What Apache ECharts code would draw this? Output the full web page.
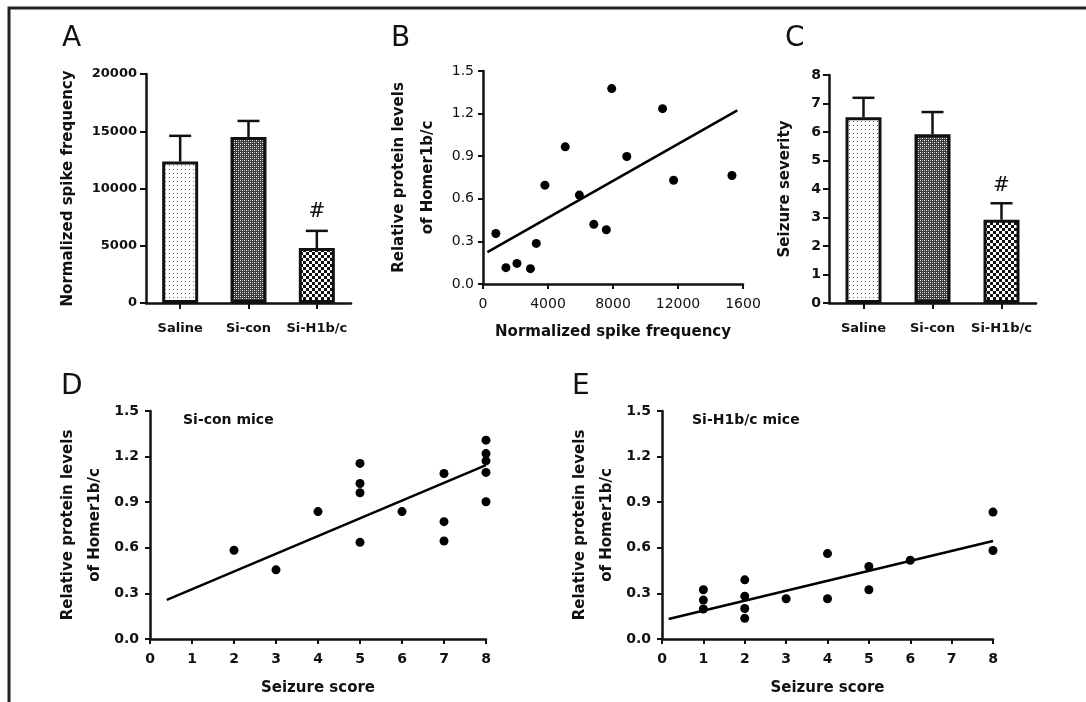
<!DOCTYPE html>
<html>
<head>
<meta charset="utf-8">
<script src="https://cdn.jsdelivr.net/npm/echarts@6/dist/echarts.min.js"></script>
<style>html,body{margin:0;padding:0;background:#fff;}#main{width:1086px;height:702px;}</style>
</head>
<body>
<div id="main"></div>
<script>
// ---------- DATA ----------
var groupNames = ['Saline', 'Si-con', 'Si-H1b/c'];
// Panel A: normalized spike frequency (mean, SEM)
var spikeMean = [12350, 14500, 4800];
var spikeSem  = [2250, 1400, 1500];
var spikeMarks = ['', '', '#'];
// Panel C: seizure severity (mean, SEM)
var severityMean = [6.52, 5.92, 2.92];
var severitySem  = [0.68, 0.78, 0.58];
var severityMarks = ['', '', '#'];
// Panel B: spike frequency vs Homer1b/c
var bSpike  = [790, 1410, 2090, 2920, 3280, 3810, 5060, 5930, 6820, 7590, 7920, 8850, 11050, 11730, 15320];
var bHomer  = [0.356, 0.115, 0.145, 0.108, 0.286, 0.696, 0.966, 0.626, 0.42, 0.382, 1.376, 0.898, 1.235, 0.731, 0.764];
var bFitX = [270, 15650];
var bFitY = [0.225, 1.223];
var bXTickLabels = ['0', '4000', '8000', '12000', '1600'];
// Panel D: Si-con mice
var dScore = [2, 3, 4, 5, 5, 5, 5, 6, 7, 7, 7, 8, 8, 8, 8, 8];
var dHomer = [0.584, 0.455, 0.838, 1.155, 1.023, 0.962, 0.636, 0.838, 1.089, 0.772, 0.645, 1.308, 1.22, 1.172, 1.096, 0.903];
var dFitX = [0.4, 8];
var dFitY = [0.258, 1.144];
// Panel E: Si-H1b/c mice
var eScore = [1, 1, 1, 2, 2, 2, 2, 3, 4, 4, 5, 5, 6, 8, 8];
var eHomer = [0.324, 0.256, 0.197, 0.389, 0.282, 0.201, 0.136, 0.265, 0.562, 0.265, 0.477, 0.324, 0.518, 0.835, 0.582];
var eFitX = [0.16, 8];
var eFitY = [0.131, 0.645];

// ---------- PATTERNS ----------
function makeTile(w, h, draw) {
  var c = document.createElement('canvas');
  c.width = w; c.height = h;
  var ctx = c.getContext('2d');
  draw(ctx);
  return c;
}
var patSaline = makeTile(4, 4, function (ctx) {
  ctx.fillStyle = '#fff'; ctx.fillRect(0, 0, 4, 4);
  ctx.fillStyle = '#6a6a6a'; ctx.fillRect(1, 1, 1, 1);
});
var patSicon = makeTile(4, 4, function (ctx) {
  ctx.fillStyle = '#3a3a3a'; ctx.fillRect(0, 0, 4, 4);
  ctx.fillStyle = '#fff'; ctx.fillRect(0, 0, 1, 1); ctx.fillRect(2, 2, 1, 1);
  ctx.fillStyle = '#aaa'; ctx.fillRect(2, 0, 1, 1); ctx.fillRect(0, 2, 1, 1);
});
var patSih = makeTile(6, 6, function (ctx) {
  ctx.fillStyle = '#fff'; ctx.fillRect(0, 0, 6, 6);
  ctx.fillStyle = '#111'; ctx.fillRect(0, 0, 3, 3); ctx.fillRect(3, 3, 3, 3);
});
var patterns = [patSaline, patSicon, patSih];

// ---------- HELPERS ----------
var FONT = 'DejaVu Sans';
var AX = { lineStyle: { color: '#111', width: 2.5 } };
function tick(len) { return { show: true, inside: false, length: len, lineStyle: { color: '#111', width: 2 } }; }
function zip(a, b) { return a.map(function (v, i) { return [v, b[i]]; }); }

function barData(means) {
  return means.map(function (v, i) {
    return { value: v, itemStyle: { color: { image: patterns[i], repeat: 'repeat' } } };
  });
}
function errData(means, sems) {
  return means.map(function (v, i) { return [i, v, v + sems[i]]; });
}
function errRender(marks, capHalf, markOffset) {
  return function (params, api) {
    var p0 = api.coord([api.value(0), api.value(1)]);
    var p1 = api.coord([api.value(0), api.value(2)]);
    var st = { stroke: '#111', lineWidth: 2.5 };
    var children = [
      { type: 'line', shape: { x1: p0[0], y1: p0[1], x2: p1[0], y2: p1[1] }, style: st },
      { type: 'line', shape: { x1: p1[0] - capHalf, y1: p1[1], x2: p1[0] + capHalf, y2: p1[1] }, style: st }
    ];
    var m = marks[params.dataIndex];
    if (m) {
      children.push({ type: 'text', x: p1[0], y: p1[1] - markOffset,
        style: { text: m, fill: '#111', font: '20px "DejaVu Serif"', textAlign: 'center', textVerticalAlign: 'middle' } });
    }
    return { type: 'group', children: children };
  };
}
function plain(v) { return String(v); }
function oneDec(v) { return v.toFixed(1); }

var yTitleStyle = { color: '#111', fontWeight: 'bold', fontSize: 15, fontFamily: FONT };
var catLabel = { color: '#111', fontWeight: 'bold', fontSize: 13, margin: 19, interval: 0 };
var dotStyle = { color: '#000', opacity: 1 };

var option = {
  animation: false,
  backgroundColor: '#fff',
  textStyle: { fontFamily: FONT },
  grid: [
    { left: 146, top: 74, width: 205, height: 229 },   // A
    { left: 483, top: 71, width: 260, height: 213 },   // B
    { left: 829, top: 75, width: 207, height: 228 },   // C
    { left: 150, top: 411, width: 336, height: 228 },  // D
    { left: 662, top: 411, width: 331, height: 228 }   // E
  ],
  xAxis: [
    { gridIndex: 0, type: 'category', data: groupNames, axisLine: AX, axisTick: Object.assign(tick(6), { alignWithLabel: true, interval: 0 }),
      axisLabel: catLabel },
    { gridIndex: 1, type: 'value', min: 0, max: 16000, interval: 4000, axisLine: AX, axisTick: tick(5), splitLine: { show: false },
      axisLabel: { color: '#111', fontSize: 14, margin: 13, formatter: function (v) { return bXTickLabels[Math.round(v / 4000)]; } },
      name: 'Normalized spike frequency', nameLocation: 'middle', nameGap: 38,
      nameTextStyle: { color: '#111', fontWeight: 'bold', fontSize: 15, lineHeight: 20 } },
    { gridIndex: 2, type: 'category', data: groupNames, axisLine: AX, axisTick: Object.assign(tick(6), { alignWithLabel: true, interval: 0 }),
      axisLabel: catLabel },
    { gridIndex: 3, type: 'value', min: 0, max: 8, interval: 1, axisLine: AX, axisTick: tick(5), splitLine: { show: false },
      axisLabel: { color: '#111', fontWeight: 'bold', fontSize: 14, margin: 13 },
      name: 'Seizure score', nameLocation: 'middle', nameGap: 39,
      nameTextStyle: { color: '#111', fontWeight: 'bold', fontSize: 15, lineHeight: 20 } },
    { gridIndex: 4, type: 'value', min: 0, max: 8, interval: 1, axisLine: AX, axisTick: tick(5), splitLine: { show: false },
      axisLabel: { color: '#111', fontWeight: 'bold', fontSize: 14, margin: 13 },
      name: 'Seizure score', nameLocation: 'middle', nameGap: 39,
      nameTextStyle: { color: '#111', fontWeight: 'bold', fontSize: 15, lineHeight: 20 } }
  ],
  yAxis: [
    { gridIndex: 0, type: 'value', min: 0, max: 20000, interval: 5000, axisLine: Object.assign({ show: true }, AX), axisTick: tick(6),
      splitLine: { show: false }, axisLabel: { color: '#111', fontWeight: 'bold', fontSize: 13, margin: 9, formatter: plain },
      name: 'Normalized spike frequency', nameLocation: 'middle', nameGap: 68,
      nameTextStyle: Object.assign({ lineHeight: 20 }, yTitleStyle) },
    { gridIndex: 1, type: 'value', min: 0, max: 1.5, interval: 0.3, axisLine: Object.assign({ show: true }, AX), axisTick: tick(5),
      splitLine: { show: false }, axisLabel: { color: '#111', fontSize: 14, margin: 9, formatter: oneDec },
      name: 'Relative protein levels\nof Homer1b/c', nameLocation: 'middle', nameGap: 40,
      nameTextStyle: Object.assign({ lineHeight: 29 }, yTitleStyle) },
    { gridIndex: 2, type: 'value', min: 0, max: 8, interval: 1, axisLine: Object.assign({ show: true }, AX), axisTick: tick(6),
      splitLine: { show: false }, axisLabel: { color: '#111', fontWeight: 'bold', fontSize: 14, margin: 8 },
      name: 'Seizure severity', nameLocation: 'middle', nameGap: 34,
      nameTextStyle: Object.assign({ lineHeight: 20 }, yTitleStyle) },
    { gridIndex: 3, type: 'value', min: 0, max: 1.5, interval: 0.3, axisLine: Object.assign({ show: true }, AX), axisTick: tick(5),
      splitLine: { show: false }, axisLabel: { color: '#111', fontWeight: 'bold', fontSize: 14, margin: 11, formatter: oneDec },
      name: 'Relative protein levels\nof Homer1b/c', nameLocation: 'middle', nameGap: 41,
      nameTextStyle: Object.assign({ lineHeight: 27 }, yTitleStyle) },
    { gridIndex: 4, type: 'value', min: 0, max: 1.5, interval: 0.3, axisLine: Object.assign({ show: true }, AX), axisTick: tick(5),
      splitLine: { show: false }, axisLabel: { color: '#111', fontWeight: 'bold', fontSize: 14, margin: 11, formatter: oneDec },
      name: 'Relative protein levels\nof Homer1b/c', nameLocation: 'middle', nameGap: 41,
      nameTextStyle: Object.assign({ lineHeight: 27 }, yTitleStyle) }
  ],
  series: [
    // Panel A
    { type: 'bar', xAxisIndex: 0, yAxisIndex: 0, barWidth: 36, data: barData(spikeMean),
      itemStyle: { borderColor: '#111', borderWidth: 3 } },
    { type: 'custom', xAxisIndex: 0, yAxisIndex: 0, data: errData(spikeMean, spikeSem), z: 3,
      renderItem: errRender(spikeMarks, 11, 19), encode: { x: 0, y: [1, 2] } },
    // Panel C
    { type: 'bar', xAxisIndex: 2, yAxisIndex: 2, barWidth: 36, data: barData(severityMean),
      itemStyle: { borderColor: '#111', borderWidth: 3 } },
    { type: 'custom', xAxisIndex: 2, yAxisIndex: 2, data: errData(severityMean, severitySem), z: 3,
      renderItem: errRender(severityMarks, 11, 17), encode: { x: 0, y: [1, 2] } },
    // Panel B
    { type: 'scatter', xAxisIndex: 1, yAxisIndex: 1, symbolSize: 9, itemStyle: dotStyle, data: zip(bSpike, bHomer) },
    { type: 'line', xAxisIndex: 1, yAxisIndex: 1, showSymbol: false, symbol: 'none', lineStyle: { color: '#000', width: 2.5 }, data: zip(bFitX, bFitY) },
    // Panel D
    { type: 'scatter', xAxisIndex: 3, yAxisIndex: 3, symbolSize: 9, itemStyle: dotStyle, data: zip(dScore, dHomer) },
    { type: 'line', xAxisIndex: 3, yAxisIndex: 3, showSymbol: false, symbol: 'none', lineStyle: { color: '#000', width: 2.5 }, data: zip(dFitX, dFitY) },
    // Panel E
    { type: 'scatter', xAxisIndex: 4, yAxisIndex: 4, symbolSize: 9, itemStyle: dotStyle, data: zip(eScore, eHomer) },
    { type: 'line', xAxisIndex: 4, yAxisIndex: 4, showSymbol: false, symbol: 'none', lineStyle: { color: '#000', width: 2.5 }, data: zip(eFitX, eFitY) }
  ],
  graphic: [
    { type: 'rect', shape: { x: 9, y: 8, width: 1200, height: 800 }, style: { fill: 'none', stroke: '#222', lineWidth: 3 }, silent: true },
    { type: 'text', x: 62, y: 39, style: { text: 'A', font: '28px "DejaVu Sans"', fill: '#111', textVerticalAlign: 'middle' } },
    { type: 'text', x: 391, y: 39, style: { text: 'B', font: '28px "DejaVu Sans"', fill: '#111', textVerticalAlign: 'middle' } },
    { type: 'text', x: 785, y: 39, style: { text: 'C', font: '28px "DejaVu Sans"', fill: '#111', textVerticalAlign: 'middle' } },
    { type: 'text', x: 61, y: 387, style: { text: 'D', font: '28px "DejaVu Sans"', fill: '#111', textVerticalAlign: 'middle' } },
    { type: 'text', x: 572, y: 387, style: { text: 'E', font: '28px "DejaVu Sans"', fill: '#111', textVerticalAlign: 'middle' } },
    { type: 'text', x: 183, y: 420, style: { text: 'Si-con mice', font: 'bold 14px "DejaVu Sans"', fill: '#111', textVerticalAlign: 'middle' } },
    { type: 'text', x: 692, y: 420, style: { text: 'Si-H1b/c mice', font: 'bold 14px "DejaVu Sans"', fill: '#111', textVerticalAlign: 'middle' } }
  ]
};

var chart = echarts.init(document.getElementById('main'), null, { renderer: 'canvas' });
chart.setOption(option);
</script>
</body>
</html>
